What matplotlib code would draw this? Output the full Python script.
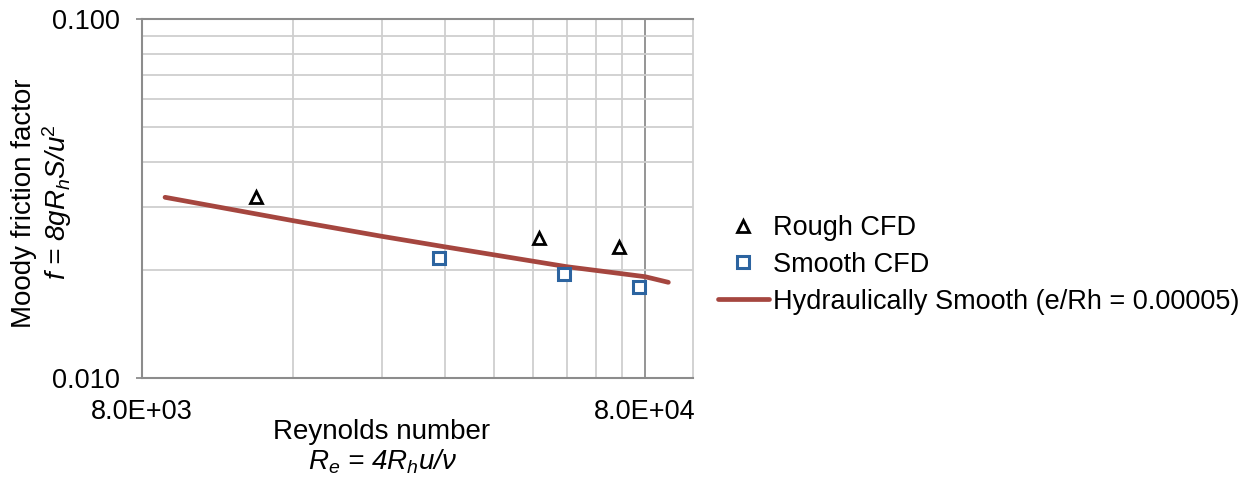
import numpy as np
import matplotlib
matplotlib.use("Agg")
import matplotlib.pyplot as plt
from matplotlib.ticker import FixedLocator, NullFormatter, LogLocator, FuncFormatter

plt.rcParams['font.family'] = ['Liberation Sans', 'DejaVu Sans']
plt.rcParams['mathtext.fontset'] = 'custom'
plt.rcParams['mathtext.rm'] = 'Liberation Sans'
plt.rcParams['mathtext.it'] = 'Liberation Sans:italic'

# data
rough_re = [13480, 49260, 71000]
rough_f = [0.03206, 0.02455, 0.02317]
smooth_re = [31200, 55300, 77700]
smooth_f = [0.0216, 0.01952, 0.01793]
hs_re = [8900, 16000, 24000, 31900, 55900, 80000, 89000]
hs_f = [0.03193, 0.02748, 0.02486, 0.02326, 0.02046, 0.01919, 0.01851]

x_base = 8000
x_ticks = [x_base, x_base * 10]
y_ticks = [0.01, 0.1]

fs = 19.5

fig = plt.figure(figsize=(12.5, 4.79), dpi=100)
ax = fig.add_axes([0.1134, 0.2102, 0.4413, 0.7495])
ax.set_xscale('log')
ax.set_yscale('log')
ax.set_xlim(8000, 99800)
ax.set_ylim(0.01, 0.1)

ax.plot(hs_re, hs_f, color='#a5463f', lw=3.4, solid_capstyle='round',
        label='Hydraulically Smooth (e/Rh = 0.00005)', zorder=3)
ax.plot(rough_re, rough_f, ls='none', marker='^', ms=8, mfc='white', mec='black',
        mew=2, label='Rough CFD', zorder=4)
ax.plot(smooth_re, smooth_f, ls='none', marker='s', ms=9, mfc='white', mec='#2c64a0',
        mew=2.2, label='Smooth CFD', zorder=4)

# gridlines at multiples of the axis base, like the spreadsheet
ax.xaxis.set_major_locator(FixedLocator(x_ticks))
ax.xaxis.set_minor_locator(FixedLocator(list(x_base * np.arange(2, 10))))
ax.xaxis.set_major_formatter(FuncFormatter(lambda v, p: f"{v:.1E}"))
ax.xaxis.set_minor_formatter(NullFormatter())
ax.yaxis.set_major_locator(FixedLocator(y_ticks))
ax.yaxis.set_minor_locator(LogLocator(base=10, subs=np.arange(2, 10)))
ax.yaxis.set_major_formatter(FuncFormatter(lambda v, p: f"{v:.3f}"))
ax.yaxis.set_minor_formatter(NullFormatter())

ax.grid(which='minor', color='#cfcfcf', lw=1.3)
ax.grid(which='major', color='#8c8c8c', lw=1.3)
ax.set_axisbelow(True)

ax.tick_params(axis='y', which='major', length=4.5, width=1.3, color='#8c8c8c',
               pad=11, labelsize=fs)
ax.tick_params(axis='x', which='major', length=0, pad=15, labelsize=fs)
ax.tick_params(which='minor', length=0)

for side in ['left', 'bottom', 'top']:
    ax.spines[side].set_color('#8c8c8c')
    ax.spines[side].set_linewidth(1.5)
ax.spines['right'].set_color('#cfcfcf')
ax.spines['right'].set_linewidth(1.3)

fig.text(0.019, 0.575, 'Moody friction factor', rotation=90, ha='center', va='center', fontsize=20)
fig.text(0.046, 0.577, r'f = 8g$R_h$S/u$^2$', style='italic', rotation=90,
         ha='center', va='center', fontsize=20)
fig.text(0.305, 0.098, 'Reynolds number', ha='center', va='center', fontsize=20)
fig.text(0.306, 0.035, r'$R_e$ = 4$R_h$u/ν', style='italic', ha='center', va='center', fontsize=20)

handles, labels = ax.get_legend_handles_labels()
order = [1, 2, 0]
leg = fig.legend([handles[i] for i in order], [labels[i] for i in order],
                 loc='center left', bbox_to_anchor=(0.574, 0.447), frameon=False,
                 fontsize=fs, handlelength=1.9, handletextpad=0.15, labelspacing=0.4,
                 borderpad=0, borderaxespad=0)

fig.savefig('out.png', dpi=100)
